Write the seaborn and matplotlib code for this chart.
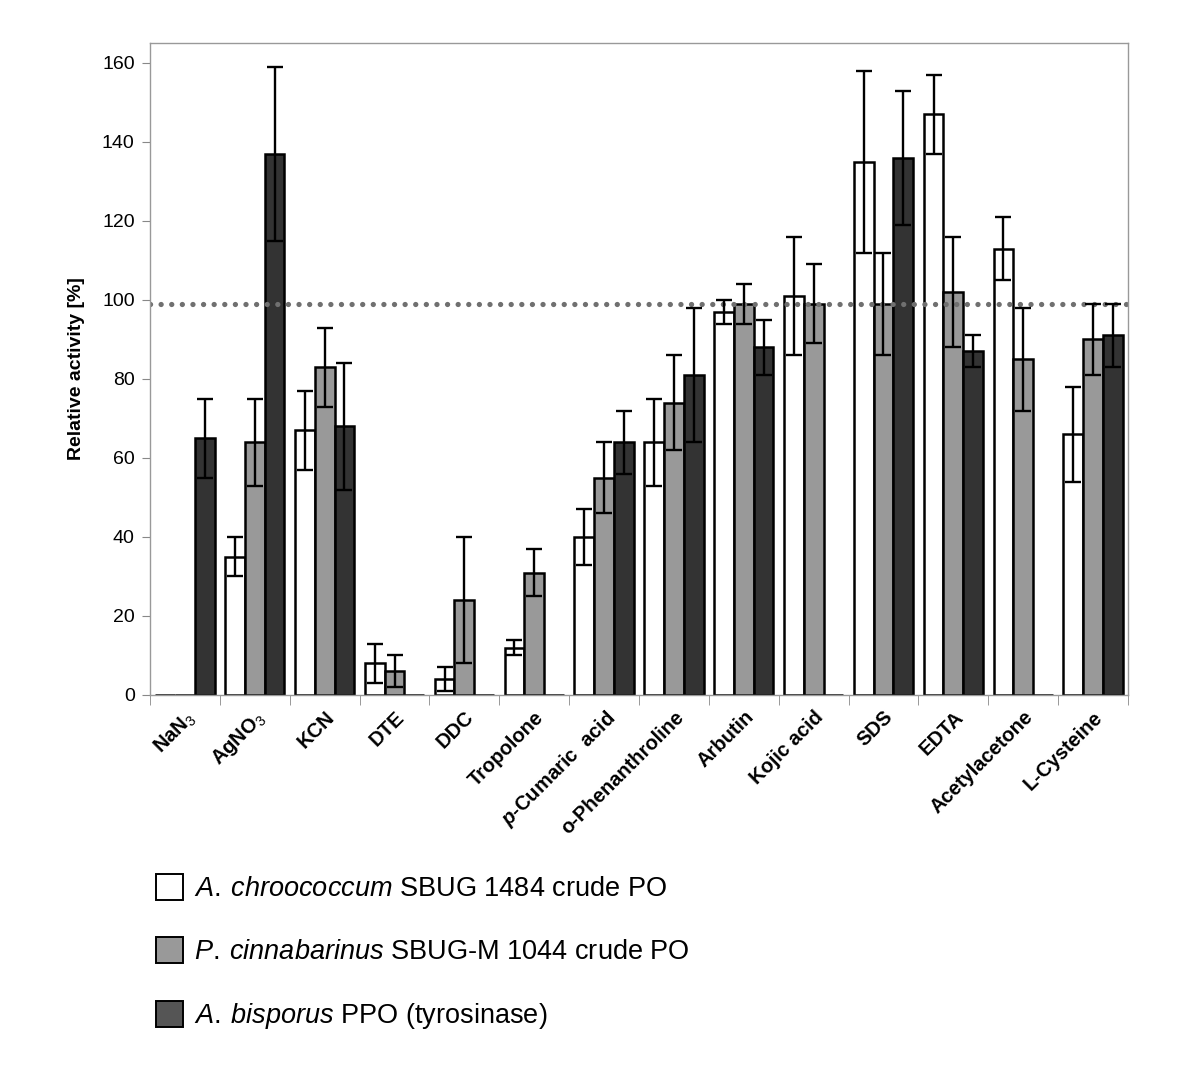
import numpy as np
import pandas as pd
import matplotlib
matplotlib.use("Agg")
import matplotlib.pyplot as plt
import seaborn as sns

# %% data
compounds = ["NaN$_3$", "AgNO$_3$", "KCN", "DTE", "DDC", "Tropolone",
             r"$\mathbfit{p}$-Cumaric  acid", "o-Phenanthroline", "Arbutin",
             "Kojic acid", "SDS", "EDTA", "Acetylacetone", "L-Cysteine"]
series = [r"$\mathit{A.\:chroococcum}$ SBUG 1484 crude PO",
          r"$\mathit{P.\:cinnabarinus}$ SBUG-M 1044 crude PO",
          r"$\mathit{A.\:bisporus}$ PPO (tyrosinase)"]

chroococcum = [0, 35, 67, 8, 4, 12, 40, 64, 97, 101, 135, 147, 113, 66]
chroococcum_err = [0, 5, 10, 5, 3, 2, 7, 11, 3, 15, 23, 10, 8, 12]
cinnabarinus = [0, 64, 83, 6, 24, 31, 55, 74, 99, 99, 99, 102, 85, 90]
cinnabarinus_err = [0, 11, 10, 4, 16, 6, 9, 12, 5, 10, 13, 14, 13, 9]
bisporus = [65, 137, 68, 0, 0, 0, 64, 81, 88, 0, 136, 87, 0, 91]
bisporus_err = [10, 22, 16, 0, 0, 0, 8, 17, 7, 0, 17, 4, 0, 8]

reference_level = 99

# %% styling
sns.set_style("white")
plt.rcParams["font.family"] = ["Liberation Sans", "DejaVu Sans"]
plt.rcParams["text.color"] = "black"
plt.rcParams["axes.labelcolor"] = "black"
plt.rcParams["xtick.color"] = "black"
plt.rcParams["ytick.color"] = "black"
plt.rcParams["mathtext.fontset"] = "custom"
plt.rcParams["mathtext.rm"] = "Liberation Sans"
plt.rcParams["mathtext.it"] = "Liberation Sans:italic"
plt.rcParams["mathtext.bf"] = "Liberation Sans:bold"
plt.rcParams["mathtext.bfit"] = "Liberation Sans:bold:italic"

df = pd.DataFrame({
    "compound": compounds * 3,
    "series": np.repeat(series, len(compounds)),
    "activity": chroococcum + cinnabarinus + bisporus,
})
errors = [chroococcum_err, cinnabarinus_err, bisporus_err]
colors = ["#ffffff", "#999999", "#333333"]

fig = plt.figure(figsize=(12, 10.78), dpi=100)
ax = fig.add_axes([0.125, 0.3553, 0.815, 0.6047])

sns.barplot(data=df, x="compound", y="activity", hue="series",
            palette=colors, width=0.85, edgecolor="black", linewidth=1.8,
            errorbar=None, legend=False, ax=ax)

# error bars at the bar centres
for container, err in zip(ax.containers, errors):
    xs, ys, es = [], [], []
    for bar, e in zip(container, err):
        if e > 0:
            xs.append(bar.get_x() + bar.get_width() / 2)
            ys.append(bar.get_height())
            es.append(e)
    ax.errorbar(xs, ys, yerr=es, fmt="none", ecolor="black",
                elinewidth=1.7, capsize=6, capthick=1.7, zorder=5)

ax.axhline(reference_level, color="#707070", lw=3.8,
           dashes=(0.01, 2.0), dash_capstyle="round", zorder=1)

ax.set_ylim(0, 165)
ax.set_xlim(-0.5, len(compounds) - 0.5)
ax.set_yticks(range(0, 161, 20))
ax.tick_params(axis="y", labelsize=14, length=6, color="#888888",
               labelcolor="black", direction="out", left=True, pad=5)
ax.set_xticks(np.arange(len(compounds)))
ax.set_xticklabels(compounds, rotation=45, ha="right",
                   rotation_mode="anchor", fontweight="bold", fontsize=14.5)
ax.tick_params(axis="x", which="major", length=0, pad=9)
ax.set_xticks(np.arange(-0.5, len(compounds)), minor=True)
ax.tick_params(axis="x", which="minor", length=7, color="#888888",
               direction="out", bottom=True)

ax.set_xlabel("")
ax.set_ylabel("Relative activity [%]", fontsize=14, fontweight="bold",
              labelpad=12)
for sp in ax.spines.values():
    sp.set_color("#999999")
    sp.set_linewidth(1.0)

# legend below the chart
handles = [matplotlib.patches.Patch(facecolor=c, edgecolor="black", lw=1.4)
           for c in ["#ffffff", "#999999", "#555555"]]
fig.legend(handles, series, loc="upper left", bbox_to_anchor=(0.11, 0.212),
           frameon=False, fontsize=19.5, handlelength=1.0, handleheight=1.1,
           handletextpad=0.4, labelspacing=1.3)

fig.savefig("out.png", dpi=100)
